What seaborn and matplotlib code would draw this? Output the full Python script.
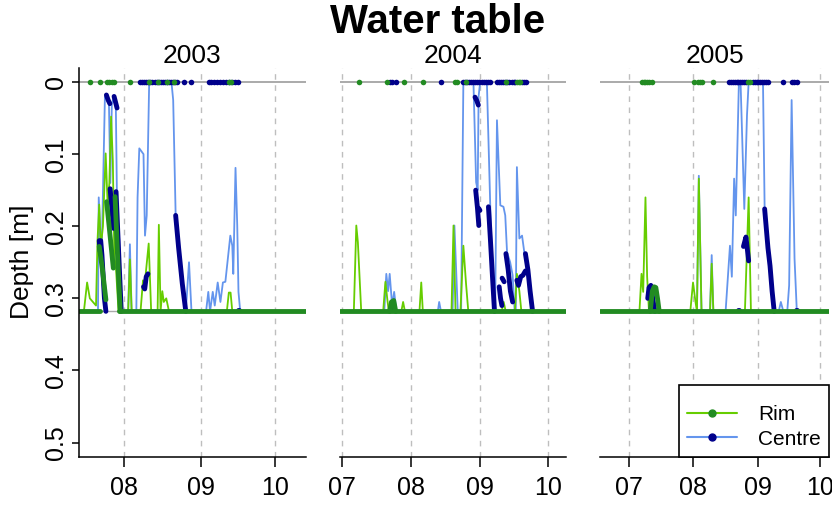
import numpy as np
import pandas as pd
import matplotlib
matplotlib.use("Agg")
import matplotlib.pyplot as plt
from matplotlib.lines import Line2D
import seaborn as sns

# ------------------------------------------------------------
# Data (x = days counted from 1 July of each year, y = depth in m)
# ------------------------------------------------------------
years = ["2003", "2004", "2005"]
day_start = [12.6, -0.9, -13.9]
day_end = [104.5, 100.0, 96.4]
month_days = [0, 31, 62, 92]
month_labels = ["07", "08", "09", "10"]
depth_ticks = [0, 0.1, 0.2, 0.3, 0.4, 0.5]
depth_labels = ["0", "0.1", "0.2", "0.3", "0.4", "0.5"]
floor_depth = 0.318

nan = np.nan

# --- 2003 ---
rim_2003_x = [12.6, 14.7, 16.0, 17.1, 19.6, 20.2, 20.9, 21.5, 22.4, 23.5, 24.3, 25.0, 25.7,
              26.4, 27.0, 27.7, 28.7, 32.6, 33.3, 34.0, 37.6, 38.6, 39.3, 40.3, 40.9, 41.9,
              44.5, 45.0, 45.7, 46.4, 47.0, 48.0, 49.1, 72.5, 73.3, 74.0, 74.7, 104.5]
rim_2003_y = [.318, .318, .278, .30, .31, .22, .17, .23, .20, .099, .17, .14, .048,
              .11, .24, .26, .318, .318, .246, .318, .318, .275, .28, .245, .224, .318,
              .318, .198, .318, .29, .305, .30, .318, .318, .292, .292, .318, .318]
cen_2003_x = [12.6, 20.4, 20.7, 21.6, 22.0, 23.2, 24.0, 24.8, 25.4, 26.0, 26.9, 27.6, 28.1,
              29.0, 29.6, 32.6, 33.3, 34.0, 35.9, 36.4, 37.1, 38.8, 39.4, 40.1, 41.1, 50.1,
              50.8, 51.8, 54.0, 55.9, 57.2, 58.2, 64.1, 65.0, 65.7, 66.8, 67.6, 68.8, 69.9,
              70.9, 71.9, 72.9, 73.9, 74.7, 75.1, 76.0, 76.7, 77.2, 77.9, 104.5]
cen_2003_y = [.318, .318, .16, .23, .22, .02, .018, .025, .14, .03, .02, .03, .17,
              .22, .318, .318, .225, .318, .318, .16, .092, .10, .213, .185, 0, 0,
              .025, .185, .26, .318, .25, .318, .318, .291, .318, .291, .31, .278, .305,
              .278, .277, .245, .213, .227, .266, .119, .199, .291, .318, .318]
rim_thick_2003_x = [12.6, 21.2, nan, 20.9, 22.2, 23.6, nan, 23.9, 25.2, 26.6, nan,
                    27.3, 28.3, 29.4, nan, 29.0, 104.5]
rim_thick_2003_y = [.318, .318, nan, .228, .26, .302, nan, .166, .21, .258, nan,
                    .159, .24, .318, nan, .318, .318]
cen_thick_2003_x = [20.9, 21.3, nan, 21.5, 22.0, 23.0, 23.6, nan, 23.8, 24.5, 25.2, nan,
                    26.9, 27.5, 28.1, nan, 25.3, 26.0, 26.7, nan, 27.7, 28.8, 29.8, nan,
                    38.8, 39.3, 39.9, 40.6, nan, 51.8, 53.0, 54.5, 55.9, nan, 77.0, 77.4]
cen_thick_2003_y = [.22, .235, nan, .22, .24, .30, .318, nan, .018, .025, .03, nan,
                    .02, .028, .036, nan, .148, .175, .203, nan, .152, .24, .318, nan,
                    .284, .287, .27, .266, nan, .185, .23, .28, .318, nan, .316, .316]
rim_wet_2003 = [17.2, 21.4, 23.9, 24.9, 25.9, 26.9, 33.3, 41.0, 44.5, 48.1, 51.0, 73.4, 74.3]
cen_wet_2003 = [37.5, 38.3, 39.2, 40.0, 40.8, 41.6, 42.4, 43.3, 44.1, 44.9, 45.7, 46.5,
                47.3, 48.2, 49.0, 49.8, 50.6, 51.4, 52.2, 55.1, 57.9, 65.3, 66.1, 67.3,
                68.6, 69.8, 71.0, 72.2, 73.4, 74.7, 75.9, 77.1]

# --- 2004 ---
rim_2004_x = [-0.9, 5.5, 6.6, 7.3, 8.8, 18.6, 19.6, 20.4, 21.1, 26.7, 27.5, 28.3, 34.8,
              35.6, 36.3, 49.1, 50.0, 50.9, 53.1, 54.4, 55.6, 56.6, 71.5, 72.4, 73.3,
              77.4, 78.3, 79.4, 80.3, 100.0]
rim_2004_y = [.318, .318, .199, .222, .318, .318, .277, .30, .318, .318, .305, .318, .318,
              .278, .318, .318, .199, .318, .318, .227, .28, .318, .318, .305, .318,
              .318, .266, .29, .318, .318]
cen_2004_x = [-0.9, 19.1, 20.0, 20.8, 21.5, 22.6, 23.5, 24.5, 43.0, 43.6, 44.4, 49.6,
              50.4, 51.9, 53.4, 54.4, 58.9, 60.1, 60.8, 61.2, 61.9, 64.9, 66.4, 67.8,
              68.6, 69.4, 70.9, 72.3, 73.1, 73.9, 75.3, 76.4, 77.3, 77.8, 78.3, 79.4,
              80.6, 81.6, 82.8, 83.9, 85.3, 100.0]
cen_2004_y = [.318, .318, .266, .29, .266, .31, .291, .318, .318, .305, .318, .318,
              .199, .318, .318, 0, 0, .139, .15, .02, 0, 0, .171, .318,
              .318, .053, .171, .173, .185, .236, .25, .268, .318, .318, .118, .217,
              .213, .236, .245, .29, .318, .318]
rim_thick_2004_x = [-0.9, 100.0, nan, 21.5, 22.3, 23.3, 24.2]
rim_thick_2004_y = [.318, .318, nan, .318, .305, .303, .318]
cen_thick_2004_x = [59.6, 60.4, 61.1, nan, 59.9, 60.7, 61.3, nan, 61.2, 61.8, nan,
                    65.6, 66.5, 67.4, 68.3, nan, 70.4, 71.0, 71.6, nan, 71.7, 72.6, nan,
                    73.4, 74.4, 75.4, 76.4, nan, 78.3, 79.0, 80.0, 81.0, 82.1, nan,
                    82.1, 83.2, 84.2, 85.3, nan, 22.2, 22.5]
cen_thick_2004_y = [.021, .026, .032, nan, .15, .175, .199, nan, .175, .178, nan,
                    .173, .22, .27, .318, nan, .284, .30, .31, nan, .272, .277, nan,
                    .238, .26, .29, .305, nan, .275, .282, .27, .268, .262, nan,
                    .238, .26, .29, .318, nan, .316, .316]
rim_wet_2004 = [7.8, 20.3, 27.9, 36.5, 50.7, 51.4, 55.5, 73.4, 78.3, 79.1, 79.8]
cen_wet_2004 = [21.8, 22.7, 24.2, 44.4, 54.4, 55.3, 56.2, 57.1, 58.0, 58.9, 59.8, 60.7,
                61.6, 62.5, 63.4, 64.3, 65.2, 66.1, 69.4, 70.2, 71.1, 72.0, 72.9, 73.8,
                74.6, 76.1, 76.9, 77.6, 80.6, 81.5, 82.4]

# --- 2005 ---
rim_2005_x = [-13.9, 5.1, 6.1, 6.9, 8.0, 8.8, 9.7, 29.6, 30.9, 32.1, 32.8, 33.7, 35.0,
              39.1, 39.9, 40.7, 55.9, 57.7, 58.8, 96.4]
rim_2005_y = [.318, .318, .266, .291, .16, .27, .318, .318, .278, .305, .318, .134, .318,
              .318, .252, .318, .318, .16, .318, .318]
cen_2005_x = [-13.9, 32.8, 33.7, 35.0, 39.1, 39.9, 40.7, 46.6, 48.7, 49.6, 50.7, 51.5,
              53.0, 53.8, 55.6, 56.9, 57.7, 64.6, 65.4, 70.0, 72.2, 73.2, 74.4, 76.3,
              77.2, 78.4, 79.8, 80.9, 96.4]
cen_2005_y = [.318, .318, .13, .318, .318, .24, .318, .318, .227, .27, .134, .185,
              0, 0, .176, .046, 0, 0, .176, .318, .318, .305, .318, .318,
              .282, .025, .245, .318, .318]
rim_thick_2005_x = [-13.9, 96.4, nan, 10.3, 11.3, 12.2, 13.0, 13.8, 14.6]
rim_thick_2005_y = [.318, .318, nan, .318, .29, .284, .285, .30, .318]
cen_thick_2005_x = [9.1, 9.7, 10.6, 11.5, 12.5, nan, 55.2, 56.4, 57.7, nan,
                    65.4, 67.0, 68.0, 69.0, 70.0, nan, 52.5, 52.9, nan, 80.7, 81.1]
cen_thick_2005_y = [.30, .285, .282, .30, .318, nan, .228, .215, .248, nan,
                    .176, .23, .255, .29, .318, nan, .316, .316, nan, .316, .316]
rim_wet_2005 = [6.1, 7.2, 8.0, 8.8, 9.7, 11.0, 31.2, 33.3, 34.2, 35.0, 40.4, 57.5, 58.2]
cen_wet_2005 = [48.2, 49.1, 50.0, 51.0, 51.9, 52.8, 53.7, 54.6, 55.5, 56.4, 59.7, 60.6,
                61.5, 62.4, 63.3, 64.2, 65.1, 66.0, 67.0, 74.4, 78.4, 79.5, 80.9]

rim_x = [rim_2003_x, rim_2004_x, rim_2005_x]
rim_y = [rim_2003_y, rim_2004_y, rim_2005_y]
cen_x = [cen_2003_x, cen_2004_x, cen_2005_x]
cen_y = [cen_2003_y, cen_2004_y, cen_2005_y]
rim_thick_x = [rim_thick_2003_x, rim_thick_2004_x, rim_thick_2005_x]
rim_thick_y = [rim_thick_2003_y, rim_thick_2004_y, rim_thick_2005_y]
cen_thick_x = [cen_thick_2003_x, cen_thick_2004_x, cen_thick_2005_x]
cen_thick_y = [cen_thick_2003_y, cen_thick_2004_y, cen_thick_2005_y]
rim_wet = [rim_wet_2003, rim_wet_2004, rim_wet_2005]
cen_wet = [cen_wet_2003, cen_wet_2004, cen_wet_2005]

# ------------------------------------------------------------
# Colours / style
# ------------------------------------------------------------
colors = {
    'rim': '#66CD00',
    'rim_dark': '#228B22',
    'centre': '#6495ED',
    'centre_dark': '#00008B',
    'grid': '#BEBEBE',
}

sns.set_theme(style="ticks")
plt.rcParams['font.family'] = ['Liberation Sans', 'DejaVu Sans']
plt.rcParams['axes.linewidth'] = 1.1
for key in ['text.color', 'axes.labelcolor', 'xtick.color', 'ytick.color', 'axes.edgecolor']:
    plt.rcParams[key] = 'black'


def segments(x, y):
    """Split NaN-separated arrays into a table with a segment id."""
    x = np.asarray(x, float)
    y = np.asarray(y, float)
    seg = np.cumsum(np.isnan(x))
    df = pd.DataFrame({'day': x, 'depth': y, 'seg': seg})
    return df.dropna()


# panel edges in pixels (left, right)
panel_px = [(78.7, 306.0), (339.5, 565.5), (600.0, 829.0)]
W, H = 832, 505
bottom_px, top_px = 457.0, 67.6

fig = plt.figure(figsize=(W / 100, H / 100), dpi=100)
axes = []
for i, year in enumerate(years):
    l, r = panel_px[i]
    ax = fig.add_axes([l / W, (H - bottom_px) / H, (r - l) / W, (bottom_px - top_px) / H])
    axes.append(ax)

    for m in month_days:
        ax.axvline(m, color=colors['grid'], ls=(0, (4, 4)), lw=1.0, zorder=1)
    ax.axhline(0, color='#AAAAAA', lw=1.4, zorder=1)
    ax.axhline(floor_depth, color='#AAAAAA', lw=1.0, zorder=1)

    sns.lineplot(x=cen_x[i], y=cen_y[i], color=colors['centre'], lw=1.3,
                 sort=False, estimator=None, ax=ax)
    sns.lineplot(x=rim_x[i], y=rim_y[i], color=colors['rim'], lw=1.3,
                 sort=False, estimator=None, ax=ax)

    cdf = segments(cen_thick_x[i], cen_thick_y[i])
    sns.lineplot(data=cdf, x='day', y='depth', units='seg', estimator=None, sort=False,
                 color=colors['centre_dark'], lw=3.5, solid_capstyle='round', ax=ax)
    rdf = segments(rim_thick_x[i], rim_thick_y[i])
    sns.lineplot(data=rdf, x='day', y='depth', units='seg', estimator=None, sort=False,
                 color=colors['rim_dark'], lw=3.5, solid_capstyle='round', ax=ax)

    sns.scatterplot(x=cen_wet[i], y=np.zeros(len(cen_wet[i])), color=colors['centre_dark'],
                    s=16, linewidth=0, ax=ax, zorder=5)
    sns.scatterplot(x=rim_wet[i], y=np.zeros(len(rim_wet[i])), color=colors['rim_dark'],
                    s=16, linewidth=0, ax=ax, zorder=5)

    ax.set_xlim(day_start[i], day_end[i])
    ax.set_ylim(0.52, -0.02)
    ticks = [(d, lab) for d, lab in zip(month_days, month_labels)
             if day_start[i] <= d <= day_end[i]]
    ax.set_xticks([t[0] for t in ticks])
    ax.set_xticklabels([t[1] for t in ticks])
    ax.set_xlabel('')
    ax.set_ylabel('')
    ax.set_title(year, fontsize=19, pad=3, color='black')
    ax.tick_params(axis='x', direction='out', length=7, width=1.1, labelsize=18, pad=7,
                   color='black', labelcolor='black')
    for side in ['top', 'right']:
        ax.spines[side].set_visible(False)
    ax.spines['bottom'].set_color('black')
    if i == 0:
        ax.spines['left'].set_color('black')
        ax.set_yticks(depth_ticks)
        ax.set_yticklabels(depth_labels, rotation=90, va='center')
        ax.tick_params(axis='y', direction='out', length=5, width=1.1, labelsize=18,
                       pad=3, color='black', labelcolor='black')
    else:
        ax.spines['left'].set_visible(False)
        ax.set_yticks([])

# legend in last panel
handles = [
    Line2D([], [], color=colors['rim'], lw=1.5, marker='o', ms=5,
           mfc=colors['rim_dark'], mec=colors['rim_dark']),
    Line2D([], [], color=colors['centre'], lw=1.5, marker='o', ms=5,
           mfc=colors['centre_dark'], mec=colors['centre_dark']),
]
leg = axes[2].legend(handles, ['Rim', 'Centre'], loc='lower right', bbox_to_anchor=(1, 0),
                     borderaxespad=0, frameon=True, fancybox=False, framealpha=1,
                     edgecolor='black', fontsize=15, title=' ', title_fontsize=6,
                     handlelength=2.4, handletextpad=1.0, borderpad=0.4, labelspacing=0.25)
leg.get_frame().set_linewidth(1.2)

fig.text(22.5 / W, 1 - 262 / H, 'Depth [m]', rotation=90, ha='center', va='center',
         fontsize=19, color='black')
fig.text(438 / W, 1 - 22 / H, 'Water table', ha='center', va='center', fontsize=29,
         fontweight='bold', color='black')

plt.savefig('out.png', dpi=100)
plt.close()
print("Saved: out.png")
